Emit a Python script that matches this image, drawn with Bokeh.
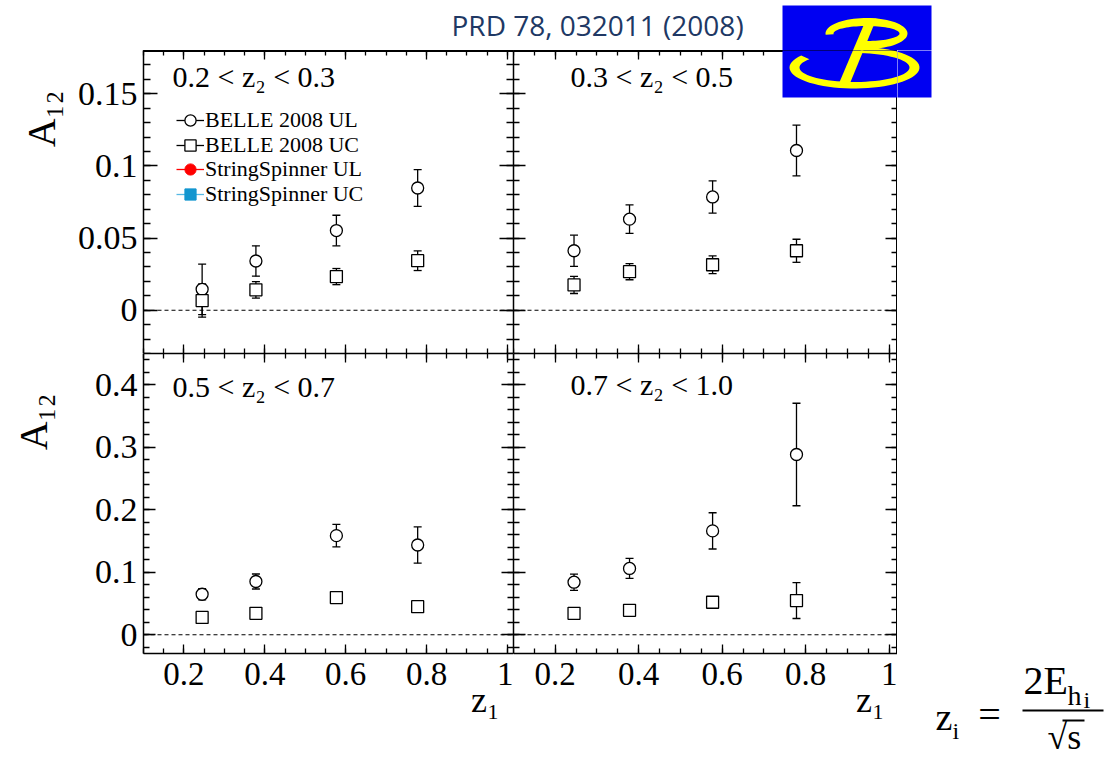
import numpy as np
from bokeh.plotting import figure
from bokeh.models import (Range1d, FixedTicker, LinearAxis, CustomJSTickFormatter, Span, Whisker,
                          TeeHead, ColumnDataSource, Legend, LegendItem, Label, BoxAnnotation,
                          PolyAnnotation, Title)
from bokeh.layouts import column, row
from bokeh.embed import file_html
from bokeh.resources import INLINE
from bokeh.core.properties import value

# ---------------- data ----------------
z1 = [0.245, 0.378, 0.577, 0.778]
panel_titles = ["0.2 < z₂ < 0.3", "0.3 < z₂ < 0.5", "0.5 < z₂ < 0.7", "0.7 < z₂ < 1.0"]

ul_z2_1 = [0.0145, 0.0341, 0.0552, 0.0847]
ul_err_z2_1 = [0.0175, 0.0105, 0.0106, 0.0128]
uc_z2_1 = [0.0067, 0.0141, 0.0233, 0.0343]
uc_err_z2_1 = [0.0115, 0.0057, 0.0056, 0.0068]

ul_z2_2 = [0.0412, 0.0631, 0.0785, 0.1107]
ul_err_z2_2 = [0.0108, 0.0099, 0.0112, 0.0176]
uc_z2_2 = [0.0175, 0.0267, 0.0315, 0.0412]
uc_err_z2_2 = [0.0059, 0.0056, 0.0061, 0.0080]

ul_z2_3 = [0.0648, 0.0852, 0.1586, 0.1436]
ul_err_z2_3 = [0.0090, 0.0120, 0.0180, 0.0290]
uc_z2_3 = [0.0278, 0.0343, 0.0595, 0.0450]
uc_err_z2_3 = [0.0040, 0.0040, 0.0050, 0.0080]

ul_z2_4 = [0.0841, 0.1061, 0.1662, 0.2884]
ul_err_z2_4 = [0.0130, 0.0160, 0.0290, 0.0820]
uc_z2_4 = [0.0343, 0.0391, 0.0520, 0.0547]
uc_err_z2_4 = [0.0030, 0.0040, 0.0060, 0.0287]

legend_labels = ["BELLE 2008 UL", "BELLE 2008 UC", "StringSpinner UL", "StringSpinner UC"]
x_ticks = [0.2, 0.4, 0.6, 0.8, 1.0]
y_ticks_top = [0, 0.05, 0.1, 0.15]
y_ticks_bottom = [0, 0.1, 0.2, 0.3, 0.4]
reference_text = "PRD 78, 032011 (2008)"
y_title = "A₁₂"
x_title = "z₁"

# ---------------- style / layout (page pixels) ----------------
SERIF = "Liberation Serif"
W, H = 1107, 760
HEADER_H = 50
STRIP_L = 73
LEFT, MID, RIGHT = 143, 513, 897
TOP, MIDY, BOTTOM = 50, 353, 653

x_minor = list(np.round(np.arange(0.1, 1.021, 0.05), 4))
y_minor_top = list(np.round(np.arange(-0.03, 0.1801, 0.01), 4))
y_minor_bottom = list(np.round(np.arange(-0.02, 0.4501, 0.02), 4))

FMT = CustomJSTickFormatter(code="return String(Number(tick.toFixed(3)));")


def add_axis(p, side, ticks, minor, show, major_len, minor_len, lw, size="30px", standoff=6):
    ax = LinearAxis(ticker=FixedTicker(ticks=ticks, minor_ticks=minor), formatter=FMT)
    ax.axis_line_color = "black"
    ax.axis_line_width = lw
    ax.major_tick_line_color = "black"
    ax.minor_tick_line_color = "black"
    ax.major_tick_line_width = 1.3
    ax.minor_tick_line_width = 1.3
    ax.major_tick_in = major_len
    ax.major_tick_out = 0
    ax.minor_tick_in = minor_len
    ax.minor_tick_out = 0
    if show:
        ax.major_label_text_font = SERIF
        ax.major_label_text_font_size = size
        ax.major_label_text_color = "black"
        ax.major_label_standoff = standoff
    else:
        ax.major_label_text_font_size = "0px"
        ax.major_label_text_color = None
        ax.major_label_standoff = 0
    p.add_layout(ax, side)


def make_panel(fw, fh, bl, bb, xr, yr, yt, ym, show_x, show_y, ylen, lw):
    p = figure(width=bl + fw, height=fh + bb, x_range=Range1d(*xr), y_range=Range1d(*yr),
               output_backend="svg", toolbar_location=None,
               x_axis_location=None, y_axis_location=None,
               min_border=0, min_border_left=bl, min_border_right=0,
               min_border_top=0, min_border_bottom=bb)
    p.grid.visible = False
    p.outline_line_color = None
    p.background_fill_color = "white"
    p.border_fill_color = "white"
    add_axis(p, "left", yt, ym, show_y, ylen[0], ylen[1], lw["left"], "34px", 6)
    add_axis(p, "right", yt, ym, False, ylen[0], ylen[1], lw["right"])
    add_axis(p, "below", x_ticks, x_minor, show_x, 9, 5, lw["below"], "33px", 9)
    add_axis(p, "above", x_ticks, x_minor, False, 9, 5, lw["above"])
    p.add_layout(Span(location=0, dimension="width", line_color="black",
                      line_dash="4 3", line_width=1.1))
    return p


def blank(width, height, xr, yr):
    p = figure(width=width, height=height, x_range=Range1d(*xr), y_range=Range1d(*yr),
               output_backend="svg", toolbar_location=None, x_axis_location=None,
               y_axis_location=None, min_border=0)
    p.grid.visible = False
    p.outline_line_color = None
    p.background_fill_color = "white"
    p.border_fill_color = "white"
    return p


def add_series(p, ul, ul_err, uc, uc_err):
    for vals, errs in ((ul, ul_err), (uc, uc_err)):
        v = np.array(vals)
        e = np.array(errs)
        src = ColumnDataSource(dict(x=z1, y=list(v), lo=list(v - e), hi=list(v + e)))
        p.add_layout(Whisker(source=src, base="x", lower="lo", upper="hi", dimension="height",
                             line_color="black", line_width=1.3, level="underlay",
                             upper_head=TeeHead(size=8, line_width=1.3, line_color="black"),
                             lower_head=TeeHead(size=8, line_width=1.3, line_color="black")))
    for vals, marker in ((ul, "circle"), (uc, "square")):
        p.scatter(x=z1, y=vals, marker=marker, size=12, fill_color="white",
                  line_color="black", line_width=1.3)


def lab(p, fx0, fy1, cx, cy, text, size):
    p.add_layout(Label(x=cx - fx0, y=fy1 - cy, x_units="screen", y_units="screen", text=text,
                       text_font=SERIF, text_font_size=size, text_align="left",
                       text_baseline="middle", text_color="black"))


def ptext(p, x, y, text, size, align="left", angle=0.0, font=SERIF, color="black"):
    p.text(x=[x], y=[y], text=[text], angle=angle, text_font=value(font),
           text_font_size=value(size), text_align=align, text_baseline="middle",
           text_color=color)


def x_title_below(p, right_gap):
    p.add_layout(Title(text=x_title, align="right", offset=right_gap, standoff=-20,
                       text_font=SERIF, text_font_size="36px", text_font_style="normal",
                       text_color="black"), "below")


def ring(cx, cy, rxo, ryo, rxi, ryi, t0, t1, n=60):
    t = np.radians(np.linspace(t0, t1, n))
    xo = cx + rxo * np.cos(t)
    yo = cy + ryo * np.sin(t)
    xi = cx + rxi * np.cos(t[::-1])
    yi = cy + ryi * np.sin(t[::-1])
    return list(np.concatenate([xo, xi])), list(np.concatenate([yo, yi]))


# Belle logo geometry in page pixels
LOGO_BOX = (782, 931, 5, 97)
logo_shapes = [
    ring(866, 33.0, 41, 15.5, 33, 7.5, 175, 458),
    ring(854, 67, 65, 21, 55, 14.5, -84, 215),
    ([838, 849, 876, 866], [84, 84, 18, 18]),
]
BLUE, YELLOW = "#0000f2", "#ffff00"


def draw_logo_glyphs(p):
    p.quad(left=[LOGO_BOX[0]], right=[LOGO_BOX[1]], top=[LOGO_BOX[2]], bottom=[LOGO_BOX[3]],
           fill_color=BLUE, line_color=None)
    p.patches(xs=[s[0] for s in logo_shapes], ys=[s[1] for s in logo_shapes],
              fill_color=YELLOW, line_color=None)


# ---------------- header ----------------
hdr = blank(W, HEADER_H, (0, W), (HEADER_H, 0))
ptext(hdr, 451, 24, reference_text, "28px", font="Open Sans", color="#203864")
draw_logo_glyphs(hdr)

# ---------------- panels ----------------
FW_L, FW_R = MID - LEFT, RIGHT - MID
FH_T, FH_B = MIDY - TOP, BOTTOM - MIDY
BL_IN = LEFT - STRIP_L
BB = H - BOTTOM

tl = make_panel(FW_L, FH_T, BL_IN, 0, (0.1, 1.015), (-0.03, 0.18), y_ticks_top, y_minor_top,
                False, True, (14, 7), dict(left=1.5, right=1.5, below=1.5, above=3))
tr = make_panel(FW_R, FH_T, 0, 0, (0.1, 1.02), (-0.03, 0.18), y_ticks_top, y_minor_top,
                False, False, (12, 6), dict(left=1.5, right=3, below=1.5, above=3))
bl = make_panel(FW_L, FH_B, BL_IN, BB, (0.1, 1.015), (-0.03, 0.45), y_ticks_bottom,
                y_minor_bottom, True, True, (12, 6), dict(left=1.5, right=1.5, below=1.5, above=1.5))
br = make_panel(FW_R, FH_B, 0, BB, (0.1, 1.02), (-0.03, 0.45), y_ticks_bottom,
                y_minor_bottom, True, False, (12, 6), dict(left=1.5, right=3, below=1.5, above=1.5))

add_series(tl, ul_z2_1, ul_err_z2_1, uc_z2_1, uc_err_z2_1)
add_series(tr, ul_z2_2, ul_err_z2_2, uc_z2_2, uc_err_z2_2)
add_series(bl, ul_z2_3, ul_err_z2_3, uc_z2_3, uc_err_z2_3)
add_series(br, ul_z2_4, ul_err_z2_4, uc_z2_4, uc_err_z2_4)

x_title_below(bl, 14)
x_title_below(br, 13)

# panel range labels (inside frames)
lab(tl, LEFT, MIDY, 172, 76, panel_titles[0], "30px")
lab(tr, MID, MIDY, 570, 76, panel_titles[1], "30px")
lab(bl, LEFT, BOTTOM, 172, 386, panel_titles[2], "30px")
lab(br, MID, BOTTOM, 570, 384, panel_titles[3], "30px")

# legend (top-left panel); legend-only entries use a NaN point; one row per Legend
nan = [np.nan]
l0 = tl.line(x=nan, y=nan, line_color="black", line_width=1.3)
s0 = tl.scatter(x=nan, y=nan, marker="circle", fill_color="white", line_color="black", line_width=1.3)
l1 = tl.line(x=nan, y=nan, line_color="black", line_width=1.3)
s1 = tl.scatter(x=nan, y=nan, marker="square", fill_color="white", line_color="black", line_width=1.3)
l2 = tl.line(x=nan, y=nan, line_color="#ff0000", line_width=1.3)
s2 = tl.scatter(x=nan, y=nan, marker="circle", fill_color="#ff0000", line_color="#ff0000")
l3 = tl.line(x=nan, y=nan, line_color="#56b8e4", line_width=1.3)
s3 = tl.scatter(x=nan, y=nan, marker="square", fill_color="#1396cf", line_color="#1396cf")
legend_rows = [120, 144.5, 169, 193.5]
for label, rends, cy in zip(legend_labels, ([l0, s0], [l1, s1], [l2, s2], [l3, s3]), legend_rows):
    tl.add_layout(Legend(items=[LegendItem(label=label, renderers=rends)],
                         location=(176 - LEFT, MIDY - (cy + 14)), orientation="vertical",
                         padding=0, margin=0, spacing=0,
                         glyph_width=28, glyph_height=28, label_height=24, label_standoff=1,
                         label_text_font=SERIF, label_text_font_size="22px",
                         label_text_color="black",
                         border_line_color=None, background_fill_alpha=0))

# logo part overlapping the top-right panel frame
tr.add_layout(BoxAnnotation(left=LOGO_BOX[0] - MID, right=LOGO_BOX[1] - MID,
                            top=MIDY - LOGO_BOX[2], bottom=MIDY - LOGO_BOX[3],
                            left_units="screen", right_units="screen",
                            top_units="screen", bottom_units="screen", level="overlay",
                            fill_color=BLUE, fill_alpha=1.0, line_color=None))
for xs, ys in logo_shapes:
    tr.add_layout(PolyAnnotation(xs=[x - MID for x in xs], ys=[MIDY - y for y in ys],
                                 xs_units="screen", ys_units="screen", level="overlay",
                                 fill_color=YELLOW, fill_alpha=1.0, line_color=None))

# ---------------- side strips ----------------
left_strip = blank(STRIP_L, H - TOP, (0, STRIP_L), (H, TOP))
ptext(left_strip, 41, 90, y_title, "40px", align="right", angle=np.pi / 2)
ptext(left_strip, 33, 393, y_title, "40px", align="right", angle=np.pi / 2)

right_strip = blank(W - RIGHT, H - TOP, (RIGHT, W), (H, TOP))
draw_logo_glyphs(right_strip)
# formula z_i = 2E_{h_i} / sqrt(s)
ptext(right_strip, 935, 716, "z", "38px")
ptext(right_strip, 952, 730, "i", "24px")
ptext(right_strip, 989, 714, "=", "40px", align="center")
ptext(right_strip, 1023, 680, "2E", "40px")
ptext(right_strip, 1067, 695, "h", "28px")
ptext(right_strip, 1083, 699, "i", "24px")
ptext(right_strip, 1047, 736, "√s", "36px")
right_strip.quad(left=[1022, 1062], right=[1103, 1084], top=[709, 719], bottom=[711, 721],
                 fill_color="black", line_color=None)

panels = column(row(tl, tr), row(bl, br))
layout = column(hdr, row(left_strip, panels, right_strip))
open("out.html", "w").write(file_html(layout, INLINE))
